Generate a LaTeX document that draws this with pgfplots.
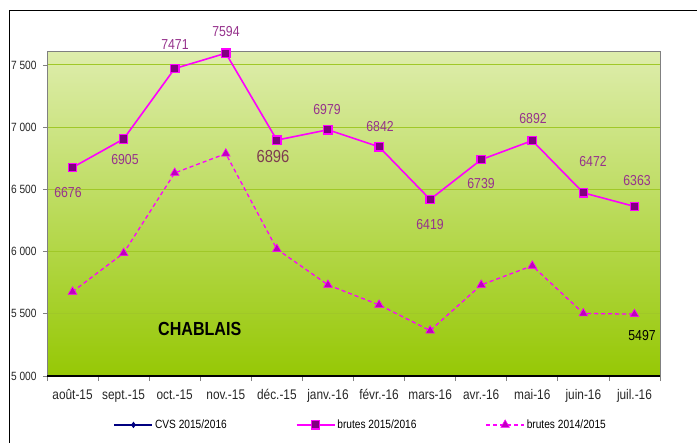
\documentclass[border=0pt]{standalone}
\usepackage{fontspec}
\setmainfont{Liberation Sans}[FakeStretch=0.85]
\usepackage{pgfplots}
\pgfplotsset{compat=1.18}
\definecolor{mag}{RGB}{255,0,255}
\definecolor{purp}{RGB}{128,0,128}
\definecolor{tri}{RGB}{190,0,190}
\definecolor{lbl}{RGB}{150,50,140}
\definecolor{lblb}{RGB}{125,60,80}
\definecolor{gridg}{RGB}{160,200,40}
\definecolor{bgtop}{RGB}{222,237,172}
\definecolor{bgmid}{RGB}{192,222,118}
\definecolor{bgbot}{RGB}{150,200,5}
\definecolor{cvs}{RGB}{0,0,128}
\begin{document}
\begin{tikzpicture}
\useasboundingbox (0,0) rectangle (697bp,443bp);
\draw[black, line width=0.8pt] (9bp,0bp) -- (9bp,433bp) -- (697bp,433bp);
\begin{axis}[
  at={(47bp,67bp)}, anchor=south west,
  scale only axis, width=613bp, height=324bp,
  xmin=-0.5, xmax=11.5, ymin=5000, ymax=7604,
  axis background/.style={top color=bgtop, middle color=bgmid, bottom color=bgbot},
  axis line style={draw=gray, line width=1pt},
  xtick={0,...,11},
  xticklabels={août-15,sept.-15,oct.-15,nov.-15,déc.-15,janv.-16,févr.-16,mars-16,avr.-16,mai-16,juin-16,juil.-16},
  minor xtick={-0.5,0.5,...,11.5},
  major x tick style={draw=none},
  minor x tick style={draw=gray, line width=0.8pt},
  minor tick length=5bp,
  tick align=outside,
  xtick pos=lower, ytick pos=left,
  ytick={5000,5500,6000,6500,7000,7500},
  yticklabels={5 000,5 500,6 000,6 500,7 000,7 500},
  major tick length=4bp,
  y tick style={draw=gray, line width=0.8pt},
  ymajorgrids,
  grid style={gridg, line width=1pt},
  tick label style={text=black!85},
  yticklabel style={font=\fontsize{12}{14}\selectfont, xshift=-3bp},
  xticklabel style={font=\fontsize{14}{16}\selectfont, yshift=-6bp},
  clip=false,
  legend columns=3,
  legend style={at={(0.512,-0.151)}, anchor=center, draw=none, fill=none,
    font=\fontsize{12}{14}\selectfont,
    /tikz/every even column/.append style={column sep=67bp}},
  legend image code/.code={\draw[mark repeat=2,mark phase=2,#1] plot coordinates {(0bp,0bp) (19bp,0bp) (38bp,0bp)};},
]
\addlegendimage{cvs, line width=1.3pt, mark=diamond*, mark size=2.2pt, mark options={fill=cvs, solid}}
\addlegendentry{CVS 2015/2016}
\addplot[mag, line width=1.6pt, mark=square*, mark size=4.2pt, mark options={fill=purp, draw=mag, line width=1.3pt, solid}]
  coordinates {(0,6676) (1,6905) (2,7471) (3,7594) (4,6896) (5,6979) (6,6842) (7,6419) (8,6739) (9,6892) (10,6472) (11,6363)};
\addlegendentry{brutes 2015/2016}
\addplot[mag, line width=1.3pt, dash pattern=on 4bp off 3bp, mark=triangle*, mark size=5pt, mark options={fill=tri, draw=mag, line width=0.6pt, solid}]
  coordinates {(0,5677) (1,5988) (2,6632) (3,6787) (4,6020) (5,5732) (6,5572) (7,5365) (8,5732) (9,5886) (10,5503) (11,5497)};
\addlegendentry{brutes 2014/2015}
\draw[black, line width=1.5pt] (rel axis cs:0,0) -- (rel axis cs:1,0);
\node[font=\fontsize{19}{21}\selectfont\bfseries] at (axis cs:2.49,5377) {CHABLAIS};
\end{axis}
\begin{scope}[every node/.style={font=\fontsize{14.5}{16}\selectfont, text=lbl}]
\node at (68bp,250bp) {6676};
\node at (125bp,283bp) {6905};
\node at (175bp,398bp) {7471};
\node at (226bp,411bp) {7594};
\node[font=\fontsize{17.5}{19}\selectfont, text=lblb] at (273bp,286bp) {6896};
\node at (327bp,333bp) {6979};
\node at (380bp,316bp) {6842};
\node at (430bp,218bp) {6419};
\node at (481bp,259bp) {6739};
\node at (533bp,324bp) {6892};
\node at (593bp,281bp) {6472};
\node at (637bp,262bp) {6363};
\node[text=black] at (642bp,107bp) {5497};
\end{scope}
\end{tikzpicture}
\end{document}
